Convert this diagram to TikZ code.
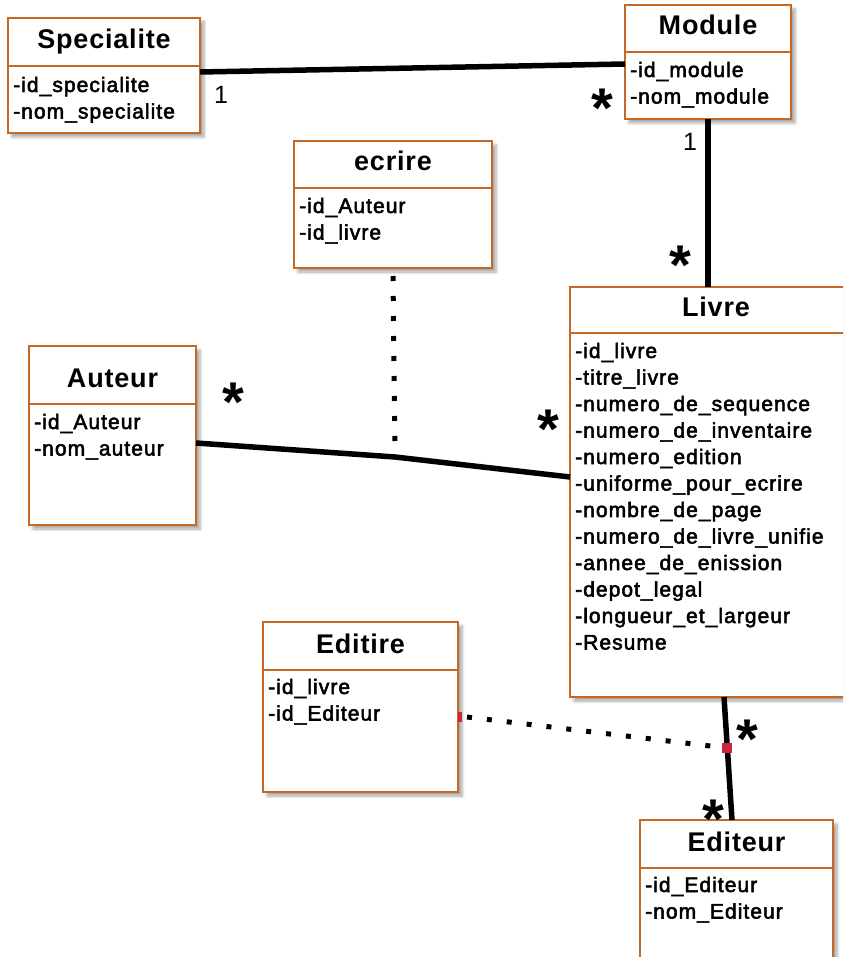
\documentclass[tikz,border=0pt]{standalone}
\usepackage{fontspec}
\setmainfont{Liberation Sans}
\newfontfamily\attrfont[LetterSpace=5,FakeBold=2.5]{Liberation Sans}
\newfontfamily\headfont[LetterSpace=3]{Liberation Sans}
\usetikzlibrary{calc,shadows.blur}

\definecolor{umlborder}{RGB}{196,104,36}
\definecolor{joinred}{RGB}{200,40,62}

\tikzset{
  classbox/.style={draw=umlborder, line width=2pt, fill=white, inner sep=0pt, outer sep=0pt,
    blur shadow={shadow xshift=4pt, shadow yshift=-4pt, shadow blur radius=3pt,
                 shadow blur steps=6, shadow opacity=35}},
  divider/.style={draw=umlborder, line width=2pt},
  classtitle/.style={anchor=base, inner sep=0pt, font=\headfont\bfseries\fontsize{27}{30}\selectfont},
  attr/.style={anchor=base west, inner sep=0pt, font=\attrfont\fontsize{21}{26}\selectfont},
  assoc/.style={line width=5.5pt, black},
  link/.style={line width=5pt, black, dash pattern=on 5pt off 15pt},
  mult/.style={inner sep=0pt, font=\fontsize{25}{25}\selectfont},
  many/.style={inner sep=0pt, anchor=base, font=\bfseries\fontsize{56}{56}\selectfont},
  joint/.style={fill=joinred, inner sep=0pt, minimum width=10pt, minimum height=10pt},
}

% class box: name, left, top, right, bottom, divider, title
\newcommand\umlclass[7]{%
  \node[classbox, minimum width={(#4)-(#2)}, minimum height={(#5)-(#3)}]
    (#1) at ({((#2)+(#4))/2},{((#3)+(#5))/2}) {};
  \draw[divider] (#2,#6) -- (#4,#6);
  \node[classtitle] (#1-title) at ({((#2)+(#4))/2},{(#6)-17}) {#7};
}
% attribute lines: name, x, first baseline, list
\newcommand\umlattrs[4]{%
  \foreach \txt [count=\k] in {#4}{%
    \node[attr] (#1-attr\k) at (#2,{(#3)+26.5*(\k-1)}) {\txt};}
}

\begin{document}
\begin{tikzpicture}[x=1pt,y=-1pt]
\useasboundingbox (0,0) rectangle (843,957);
\clip (0,0) rectangle (843,957);

% classes
\umlclass{spec}{8}{18}{200}{133}{66}{Specialite}
\umlattrs{spec}{13}{92}{-id\_specialite,-nom\_specialite}

\umlclass{mod}{625}{5}{791}{119}{52}{Module}
\umlattrs{mod}{630}{77}{-id\_module,-nom\_module}

\umlclass{ecr}{294}{141}{492}{268}{188}{ecrire}
\umlattrs{ecr}{299}{213}{-id\_Auteur,-id\_livre}

\umlclass{aut}{29}{346}{196}{525}{404}{Auteur}
\umlattrs{aut}{34}{429}{-id\_Auteur,-nom\_auteur}

\umlclass{livre}{570}{287}{862}{697}{333}{Livre}
\umlattrs{livre}{575}{358}{-id\_livre,-titre\_livre,-numero\_de\_sequence,-numero\_de\_inventaire,
  -numero\_edition,-uniforme\_pour\_ecrire,-nombre\_de\_page,-numero\_de\_livre\_unifie,
  -annee\_de\_enission,-depot\_legal,-longueur\_et\_largeur,-Resume}

\umlclass{edt}{263}{622}{458}{792}{670}{Editire}
\umlattrs{edt}{268}{694}{-id\_livre,-id\_Editeur}

\umlclass{edr}{640}{820}{833}{967}{868}{Editeur}
\umlattrs{edr}{645}{892}{-id\_Editeur,-nom\_Editeur}

% associations
\draw[assoc] ([yshift=3.5pt]spec.east) -- ([yshift=-2pt]mod.west);
\draw[assoc] (mod.south) -- (mod.south |- livre.north);

\coordinate (mid) at (395,457);
\draw[assoc] ([yshift=-7.5pt]aut.east) -- (mid) -- ([yshift=15pt]livre.west);
\draw[link] ([yshift=-8pt]ecr.south) -- (mid);

\coordinate (lvbot) at (724,697);
\draw[assoc] (lvbot) -- ([xshift=-4.5pt]edr.north);
\node[joint] (jn) at (727,748) {};
\draw[link] ([yshift=-10pt,xshift=9pt]edt.east) -- (jn);
\node[fill=joinred, inner sep=0pt, minimum width=4pt, minimum height=10pt, anchor=west]
  (edtmark) at ([yshift=-10pt]edt.east) {};

% multiplicities
\node[mult] (m1) at (221,95) {1};
\node[mult] (m2) at (690,142) {1};
\node[many] (s1) at (602,{95.5+32}) {*};
\node[many] (s2) at (680,{252.5+32}) {*};
\node[many] (s3) at (233,{389+32}) {*};
\node[many] (s4) at (548,{416+32}) {*};
\node[many] (s5) at (747,{726+32}) {*};
\node[many] (s6) at (713,{806+32}) {*};
\end{tikzpicture}
\end{document}
